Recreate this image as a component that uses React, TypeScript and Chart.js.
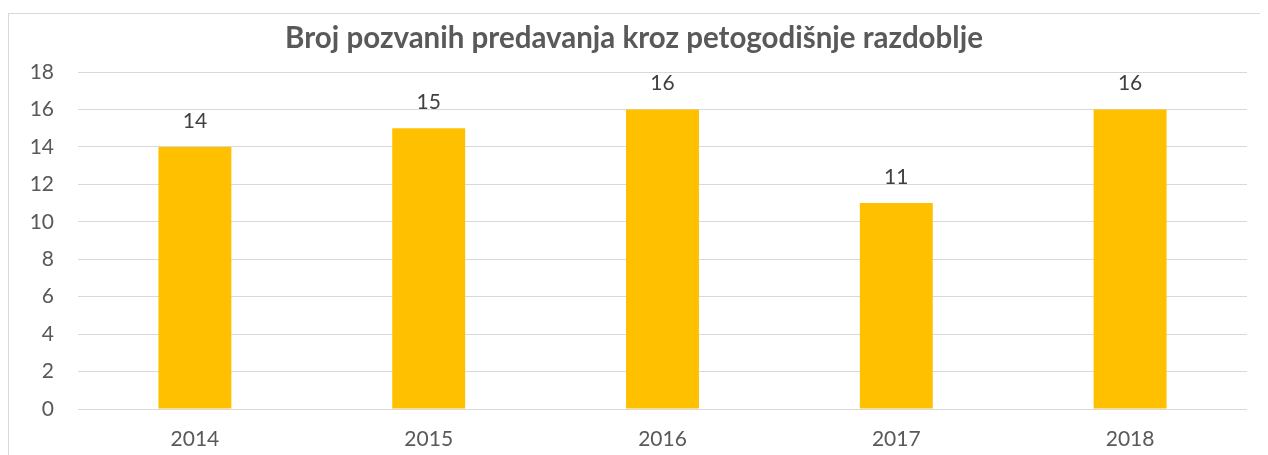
import React, { useEffect, useRef } from "react";
import { Chart, registerables } from "chart.js";

Chart.register(...registerables);

const titleText = "Broj pozvanih predavanja kroz petogodišnje razdoblje";
const years = ["2014", "2015", "2016", "2017", "2018"];
const lectures = [14, 15, 16, 11, 16];
const yMin = 0;
const yMax = 18;
const yStep = 2;

const FONT = "Lato, Carlito, 'Liberation Sans', sans-serif";

const titlePlugin = {
  id: "customTitle",
  afterDraw(chart: any) {
    const ctx = chart.ctx;
    ctx.save();
    ctx.font = `bold 29.5px ${FONT}`;
    ctx.fillStyle = "#595959";
    ctx.textAlign = "center";
    ctx.textBaseline = "alphabetic";
    ctx.fillText(titleText, chart.width / 2 - 4, 40);
    ctx.restore();
  },
};

const valueLabelPlugin = {
  id: "valueLabels",
  afterDatasetsDraw(chart: any) {
    const ctx = chart.ctx;
    ctx.save();
    ctx.font = `21px ${FONT}`;
    ctx.fillStyle = "#404040";
    ctx.textAlign = "center";
    ctx.textBaseline = "alphabetic";
    chart.data.datasets.forEach((ds: any, di: number) => {
      const meta = chart.getDatasetMeta(di);
      meta.data.forEach((bar: any, i: number) => {
        ctx.fillText(String(ds.data[i]), bar.x, bar.y - 19);
      });
    });
    ctx.restore();
  },
};

export default function App() {
  const canvasRef = useRef<HTMLCanvasElement | null>(null);

  useEffect(() => {
    document.documentElement.style.overflow = "hidden";
    document.body.style.overflow = "hidden";
    const canvas = canvasRef.current;
    if (!canvas) return;
    const chart = new Chart(canvas, {
      type: "bar",
      data: {
        labels: years,
        datasets: [
          {
            data: lectures,
            backgroundColor: "#FFC000",
            borderWidth: 0,
            categoryPercentage: 1,
            barPercentage: 0.312,
          },
        ],
      },
      plugins: [titlePlugin, valueLabelPlugin],
      options: {
        animation: false,
        responsive: false,
        devicePixelRatio: 1,
        layout: { padding: { top: 64, right: 21, left: 0, bottom: 0 } },
        plugins: {
          legend: { display: false },
          title: { display: false },
          tooltip: { enabled: false },
        },
        scales: {
          x: {
            grid: { display: false, drawTicks: false },
            border: { display: false },
            ticks: {
              color: "#595959",
              font: { family: FONT, size: 21 },
              padding: 18,
            },
            afterFit: (s: any) => {
              s.height = 46;
            },
          },
          y: {
            min: yMin,
            max: yMax,
            ticks: {
              stepSize: yStep,
              color: "#595959",
              font: { family: FONT, size: 21 },
              padding: 24,
            },
            grid: { color: "#d9d9d9", lineWidth: 1, drawTicks: false },
            border: { display: false },
            afterFit: (s: any) => {
              s.width = 70;
            },
          },
        },
      },
    });
    return () => chart.destroy();
  }, []);

  return (
    <div
      style={{
        position: "relative",
        width: 1260,
        height: 447,
        overflow: "hidden",
        background: "#ffffff",
      }}
    >
      <div
        style={{
          position: "absolute",
          left: 0,
          top: 5,
          width: 1300,
          height: 500,
          border: "1px solid #d9d9d9",
          boxSizing: "border-box",
        }}
      />
      <canvas
        ref={canvasRef}
        width={1260}
        height={447}
        style={{ position: "absolute", left: 0, top: 0, width: 1260, height: 447 }}
      />
    </div>
  );
}
